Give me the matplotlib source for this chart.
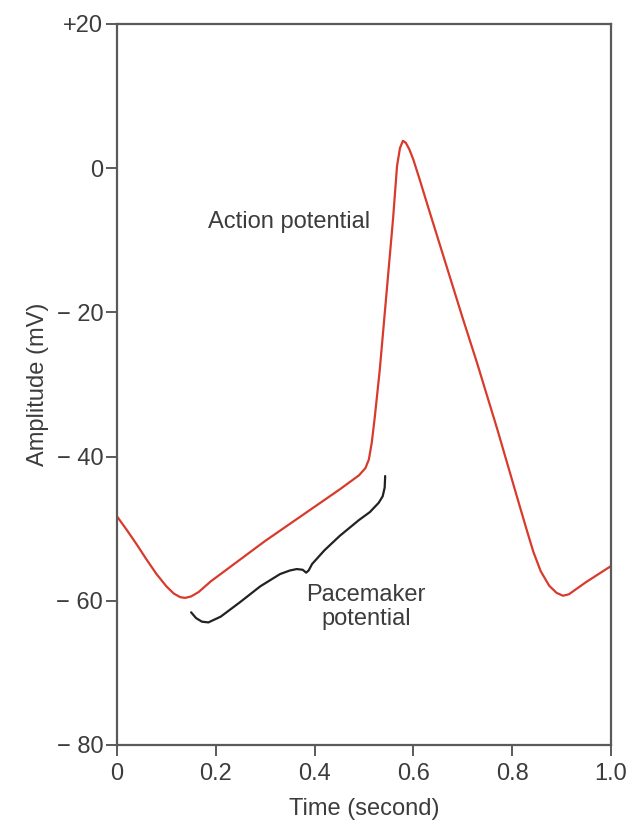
import matplotlib
matplotlib.use("Agg")
from matplotlib import pyplot as plt

plt.rcParams["font.family"] = ["Liberation Sans", "DejaVu Sans"]

# Membrane potential trace (time in s, amplitude in mV)
time_s = [0.000, 0.020, 0.040, 0.060, 0.080, 0.100, 0.115, 0.128, 0.138,
          0.150, 0.165, 0.190, 0.300, 0.450, 0.490, 0.503, 0.510, 0.516,
          0.522, 0.532, 0.559, 0.567, 0.573, 0.579, 0.585, 0.592, 0.600,
          0.613, 0.630, 0.660, 0.700, 0.729, 0.770, 0.810, 0.828, 0.843,
          0.858, 0.875, 0.890, 0.903, 0.915, 0.950, 1.000]
amplitude_mv = [-48.3, -50.2, -52.2, -54.3, -56.3, -58.0, -59.0, -59.5, -59.6,
                -59.4, -58.8, -57.3, -51.7, -44.6, -42.6, -41.6, -40.4, -38.0,
                -34.5, -28.0, -7.0, 0.3, 2.8, 3.8, 3.5, 2.6, 1.2,
                -1.6, -5.4, -12.0, -20.8, -27.0, -36.2, -45.6, -49.8, -53.2,
                -55.9, -57.9, -58.9, -59.3, -59.1, -57.4, -55.2]

# Curly brace marking the pacemaker potential
brace_t = [0.150, 0.160, 0.172, 0.185, 0.210, 0.249, 0.290, 0.330, 0.350,
           0.364, 0.376, 0.383, 0.388, 0.395, 0.420, 0.451, 0.490, 0.512,
           0.530, 0.538, 0.542, 0.543]
brace_mv = [-61.6, -62.4, -62.9, -63.0, -62.2, -60.2, -58.0, -56.3, -55.8,
            -55.6, -55.7, -56.1, -55.8, -54.9, -53.0, -51.0, -48.8, -47.7,
            -46.4, -45.5, -44.3, -42.7]

x_ticks = [0, 0.2, 0.4, 0.6, 0.8, 1.0]
x_tick_labels = ["0", "0.2", "0.4", "0.6", "0.8", "1.0"]
y_ticks = [20, 0, -20, -40, -60, -80]
y_tick_labels = ["+20", "0", "\u2212 20", "\u2212 40", "\u2212 60", "\u2212 80"]


def main():
    text_color = "#3c3c3c"
    spine_color = "#5a5a5a"
    fsize = 17

    fig = plt.figure(figsize=(6.43, 8.21), dpi=100)
    ax = fig.add_axes([0.182, 0.0926, 0.768, 0.8782])

    ax.plot(time_s, amplitude_mv, color="#d83a2c", lw=1.6, solid_capstyle="round",
            solid_joinstyle="round")
    ax.plot(brace_t, brace_mv, color="#222222", lw=1.6, solid_capstyle="round",
            solid_joinstyle="round")

    ax.text(0.348, -7.4, "Action potential", ha="center", va="center",
            fontsize=fsize, color=text_color)
    ax.text(0.504, -60.9, "Pacemaker\npotential", ha="center", va="center",
            fontsize=fsize, color=text_color, linespacing=1.1)

    ax.set_xlim(0, 1.0)
    ax.set_ylim(-80, 20)
    ax.set_xticks(x_ticks)
    ax.set_xticklabels(x_tick_labels)
    ax.set_yticks(y_ticks)
    ax.set_yticklabels(y_tick_labels)

    ax.tick_params(axis="both", direction="out", length=8, width=1.4,
                   colors=spine_color, labelcolor=text_color, labelsize=fsize)
    ax.tick_params(axis="x", pad=5)
    ax.tick_params(axis="y", pad=2)

    for spine in ax.spines.values():
        spine.set_color(spine_color)
        spine.set_linewidth(1.6)

    ax.set_xlabel("Time (second)", fontsize=fsize, color=text_color, labelpad=9)
    ax.set_ylabel("Amplitude (mV)", fontsize=fsize, color=text_color, labelpad=5)

    fig.savefig("out.png", dpi=100)


if __name__ == "__main__":
    main()
